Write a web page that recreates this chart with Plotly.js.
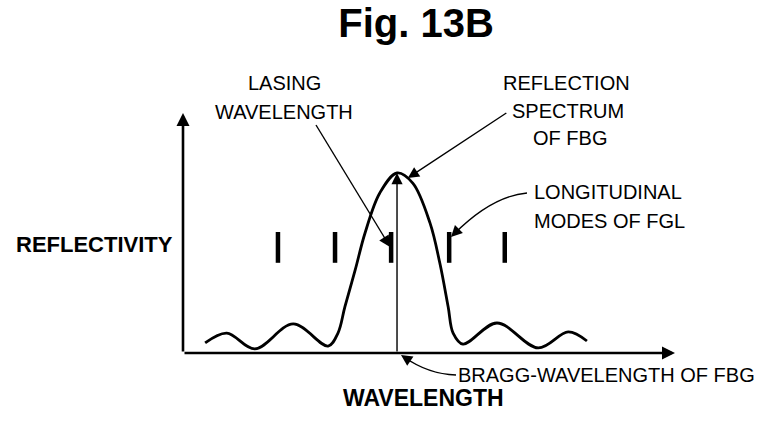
<!DOCTYPE html>
<html>
<head>
<meta charset="utf-8">
<script src="https://cdn.plot.ly/plotly-3.0.1.min.js"></script>
<style>html,body{margin:0;padding:0;background:#fff;}#chart{width:760px;height:422px;}</style>
</head>
<body>
<div id="chart"></div>
<script>
// Reflection spectrum of the FBG (arbitrary wavelength units, relative reflectivity)
const wavelength   = [4.5, 8.9, 14.6, 22.4, 29.5, 31.5, 32.9, 35.0, 37.0, 40.0, 43.5, 46.7, 50.2, 52.2, 53.9, 54.9, 56.9, 63.8, 72.2, 78.3, 82.1];
const reflectivity = [0.042, 0.083, 0.017, 0.121, 0.029, 0.083, 0.192, 0.346, 0.500, 0.667, 0.750, 0.708, 0.542, 0.375, 0.192, 0.083, 0.037, 0.125, 0.021, 0.088, 0.050];
// Longitudinal modes of the fiber grating laser
const modeWavelengths = [19.3, 30.9, 42.3, 54.1, 65.4];
const modeLevel = [0.44, 0.44, 0.44, 0.44, 0.44];
// Bragg wavelength and peak reflectivity
const braggWavelength = 43.5;
const braggPeak = 0.75;

const L = 183, R = 85, T = 113, B = 69;
const W = 760 - L - R, H = 422 - T - B;
const PX = x => (x - L) / W;           // pixel -> paper
const PY = y => (422 - B - y) / H;

const font = "'Liberation Sans', Arial, Helvetica, sans-serif";
const black = '#000';

const traces = [
  {x: wavelength, y: reflectivity, type: 'scatter', mode: 'lines',
   line: {color: black, width: 2.8, shape: 'spline', smoothing: 1}, hoverinfo: 'skip', cliponaxis: false},
  {x: modeWavelengths, y: modeLevel, type: 'scatter', mode: 'markers',
   marker: {symbol: 'line-ns', size: 22, color: black, line: {color: black, width: 4.5}}, hoverinfo: 'skip', cliponaxis: false}
];

function txt(t, x, y, xanchor, size, bold) {
  return {text: bold ? '<b>' + t + '</b>' : t, xref: 'paper', yref: 'paper', x: PX(x), y: PY(y),
    xanchor: xanchor, yanchor: 'middle', showarrow: false,
    font: {family: font, size: size, color: black}};
}
function head(x, y, ax, ay, w, s) {
  return {text: '', xref: 'paper', yref: 'paper', x: PX(x), y: PY(y), ax: ax, ay: ay,
    showarrow: true, arrowhead: 2, arrowsize: s, arrowwidth: w, arrowcolor: black, standoff: 0, startstandoff: 0};
}

const annotations = [
  // axes
  {text: '', x: 0, y: 1, xref: 'x', yref: 'y', ax: 0, ay: 0, axref: 'x', ayref: 'y',
   showarrow: true, arrowhead: 2, arrowsize: 1, arrowwidth: 2.6, arrowcolor: black, standoff: 0},
  {text: '', x: 100, y: 0, xref: 'x', yref: 'y', ax: 0, ay: 0, axref: 'x', ayref: 'y',
   showarrow: true, arrowhead: 2, arrowsize: 1, arrowwidth: 2.6, arrowcolor: black, standoff: 0},
  // Bragg wavelength line
  {text: '', x: braggWavelength, y: braggPeak, xref: 'x', yref: 'y', ax: braggWavelength, ay: 0, axref: 'x', ayref: 'y',
   showarrow: true, arrowhead: 2, arrowsize: 1.6, arrowwidth: 1.4, arrowcolor: black, standoff: 0},
  // leader arrowheads
  head(390, 247, -7, -11, 1.4, 1.6),
  {text: '', xref: 'x', yref: 'y', x: 45.7, y: 0.729, ax: 100, ay: -66,
   showarrow: true, arrowhead: 2, arrowsize: 1.6, arrowwidth: 1.4, arrowcolor: black, standoff: 0},
  head(451, 237, 8, -8, 1.4, 1.6),
  head(401, 355, 9, 6, 1.4, 1.6),
  // labels
  txt('LASING', 284, 83, 'center', 20),
  txt('WAVELENGTH', 284, 112, 'center', 20),
  txt('REFLECTION', 566, 83, 'center', 20),
  txt('SPECTRUM', 568, 111, 'center', 20),
  txt('OF FBG', 570, 138, 'center', 20),
  txt('LONGITUDINAL', 532, 192, 'left', 20),
  txt('MODES OF FGL', 532, 221, 'left', 20),
  txt('BRAGG-WAVELENGTH OF FBG', 456, 375, 'left', 20),
  txt('REFLECTIVITY', 14, 244, 'left', 22, true),
  txt('WAVELENGTH', 423, 398, 'center', 23, true)
];

function q(p0, c, p1) {
  return 'M' + PX(p0[0]) + ',' + PY(p0[1]) + ' Q' + PX(c[0]) + ',' + PY(c[1]) + ' ' + PX(p1[0]) + ',' + PY(p1[1]);
}
const shapes = [
  {type: 'path', xref: 'paper', yref: 'paper', path: q([316,125],[348,178],[389,245]), line: {color: black, width: 1.4}},
  {type: 'path', xref: 'paper', yref: 'paper', path: q([527,193],[492,196],[454,234]), line: {color: black, width: 1.4}},
  {type: 'path', xref: 'paper', yref: 'paper', path: q([456,375],[428,374],[404,357]), line: {color: black, width: 1.4}}
];

const layout = {
  width: 760, height: 422,
  margin: {l: L, r: R, t: T, b: B},
  paper_bgcolor: '#fff', plot_bgcolor: '#fff',
  showlegend: false,
  title: {text: '<b>Fig. 13B</b>', font: {family: font, size: 40, color: black},
          x: 416/760, xanchor: 'center', xref: 'container', y: 1 - 23/422, yanchor: 'middle', yref: 'container'},
  xaxis: {range: [0, 100], visible: false, fixedrange: true},
  yaxis: {range: [0, 1], visible: false, fixedrange: true},
  annotations: annotations,
  shapes: shapes
};

Plotly.newPlot('chart', traces, layout, {staticPlot: true, displayModeBar: false});
</script>
</body>
</html>
